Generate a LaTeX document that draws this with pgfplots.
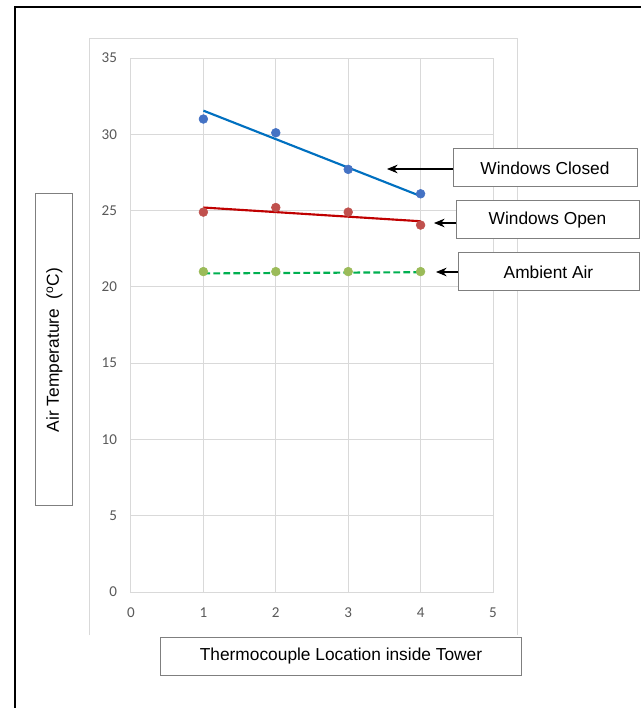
\documentclass[border=0pt]{standalone}
\usepackage{fontspec}
\setmainfont{Liberation Sans}
\newfontfamily\calibri{Carlito}
\usepackage{pgfplots}
\pgfplotsset{compat=1.18}
\usetikzlibrary{arrows.meta}
\definecolor{mkblue}{HTML}{4472C4}
\definecolor{mkred}{HTML}{C0504D}
\definecolor{mkgreen}{HTML}{9BBB59}
\definecolor{lnblue}{HTML}{0070C0}
\definecolor{lnred}{HTML}{C00000}
\definecolor{lngreen}{HTML}{00B050}
\definecolor{gridc}{HTML}{D9D9D9}
\definecolor{tickc}{HTML}{595959}
\definecolor{boxc}{HTML}{7F7F7F}
\begin{document}
\begin{tikzpicture}
\begin{scope}[shift={(-98.25pt,444pt)},x=0.75pt,y=-0.75pt]
\useasboundingbox (0,0) rectangle (641,708);
\fill[white] (0,0) rectangle (641,708);
\draw[black, line width=1.5pt] (15,708) -- (15,7) -- (641,7);
\draw[gridc, line width=0.75pt] (90,635) -- (90,39) -- (517,39) -- (517,635);
\end{scope}
\begin{axis}[
  at={(0,0)}, anchor=south west,
  scale only axis, width=271.5pt, height=400.5pt,
  xmin=0, xmax=5, ymin=0, ymax=35,
  xtick={0,1,2,3,4,5}, ytick={0,5,10,15,20,25,30,35},
  grid=major, grid style={gridc, line width=0.75pt},
  axis line style={gridc, line width=0.75pt},
  major tick length=0pt,
  tick label style={font=\calibri\fontsize{11.3}{13}\selectfont, text=tickc},
  /pgf/number format/assume math mode=true,
  yticklabel style={xshift=-7pt},
  xticklabel style={yshift=-8pt},
  clip=false,
]
% trendlines
\addplot[lnblue, line width=1.6pt, no marks] coordinates {(1,31.55) (4,25.95)};
\addplot[lnred, line width=1.6pt, no marks] coordinates {(1,25.2) (4,24.3)};
\addplot[lngreen, line width=1.6pt, no marks, dash pattern=on 5pt off 2.5pt] coordinates {(1,20.88) (4,20.96)};
% data
\addplot[only marks, mark=*, mark size=3.3pt, mkblue] coordinates {(1,31.0) (2,30.1) (3,27.7) (4,26.1)};
\addplot[only marks, mark=*, mark size=3.3pt, mkred] coordinates {(1,24.9) (2,25.2) (3,24.9) (4,24.05)};
\addplot[only marks, mark=*, mark size=3.3pt, mkgreen] coordinates {(1,21.0) (2,21.0) (3,21.0) (4,21.0)};
\end{axis}
\begin{scope}[shift={(-98.25pt,444pt)},x=0.75pt,y=-0.75pt]
\tikzset{ann/.style={draw=boxc, fill=white, line width=0.75pt},
         txt/.style={font=\fontsize{13}{15}\selectfont}}
% y label box
\draw[ann] (36,194) rectangle (73,505);
\node[txt, rotate=90] at (54.5,350) {Air Temperature\ \ (\textsuperscript{o}C)};
% x label box
\draw[ann] (161,637) rectangle (521,675);
\node[txt] at (341,656) {Thermocouple Location inside Tower};
% annotation boxes
\draw[ann] (453,149) rectangle (637,187);
\node[txt] at (545,168) {Windows Closed};
\draw[ann] (456,201) rectangle (639,239);
\node[txt] at (547.5,220) {Windows Open};
\draw[ann] (458,253) rectangle (639,291);
\node[txt] at (548.5,272) {Ambient Air};
% arrows
\draw[-{Stealth[length=8pt,width=6.5pt]}, line width=0.8pt] (453,169) -- (387,169);
\draw[-{Stealth[length=8pt,width=6.5pt]}, line width=0.8pt] (456,223) -- (434,223);
\draw[-{Stealth[length=8pt,width=6.5pt]}, line width=0.8pt] (458,272) -- (436,272);
\end{scope}
\end{tikzpicture}
\end{document}
